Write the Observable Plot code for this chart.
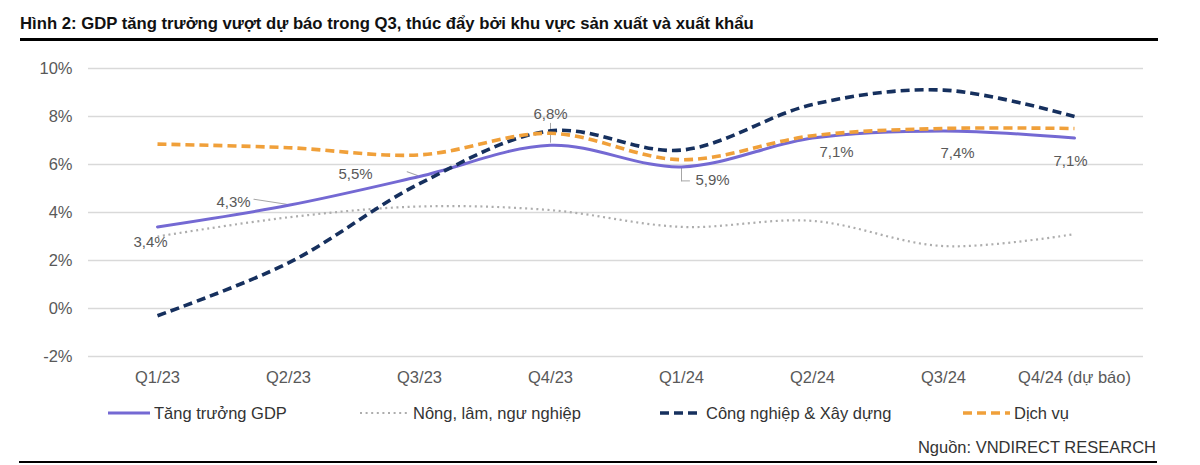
<!DOCTYPE html>
<html>
<head>
<meta charset="utf-8">
<script src="https://cdn.jsdelivr.net/npm/d3@7"></script>
<script src="https://cdn.jsdelivr.net/npm/@observablehq/plot@0.6"></script>
<style>
  html, body { margin: 0; padding: 0; background: #fff; }
  body { width: 1200px; height: 465px; position: relative; overflow: hidden;
         font-family: "Liberation Sans", Arial, sans-serif; }
  #title { position: absolute; left: 20px; top: 14px; font-weight: bold; font-size: 16.7px; color: #111; white-space: nowrap; }
  #topRule { position: absolute; left: 20px; top: 38px; width: 1138px; height: 2.5px; background: #000; }
  #chart { position: absolute; left: 0; top: 0; }
  #legend { position: absolute; left: 0; top: 400px; width: 1200px; height: 26px; }
  .item { position: absolute; top: 0; height: 26px; display: flex; align-items: center; font-size: 16.5px; color: #333; white-space: nowrap; }
  .item svg { margin-right: 4px; }
  #source { position: absolute; right: 44px; top: 438px; font-size: 16.5px; color: #333; white-space: nowrap; }
  #bottomRule { position: absolute; left: 19px; top: 461px; width: 1138px; height: 2px; background: #000; }
</style>
</head>
<body>
<div id="title">Hình 2: GDP tăng trưởng vượt dự báo trong Q3, thúc đẩy bởi khu vực sản xuất và xuất khẩu</div>
<div id="topRule"></div>
<div id="chart"></div>
<div id="legend"></div>
<div id="source">Nguồn: VNDIRECT RESEARCH</div>
<div id="bottomRule"></div>
<script>
// ---- data ----
const categories = ["Q1/23", "Q2/23", "Q3/23", "Q4/23", "Q1/24", "Q2/24", "Q3/24", "Q4/24 (dự báo)"];
const gdp        = [3.4, 4.3, 5.5, 6.8, 5.9, 7.1, 7.4, 7.1];
const agriculture = [3.0, 3.8, 4.25, 4.1, 3.4, 3.65, 2.6, 3.1];
const industry   = [-0.3, 1.9, 5.2, 7.4, 6.6, 8.5, 9.1, 8.0];
const services   = [6.85, 6.7, 6.4, 7.3, 6.2, 7.2, 7.5, 7.5];
const yTicks     = [-2, 0, 2, 4, 6, 8, 10];
const seriesNames = ["Tăng trưởng GDP", "Nông, lâm, ngư nghiệp", "Công nghiệp & Xây dựng", "Dịch vụ"];

const fmt = v => d3.format(".1f")(v).replace(".", ",") + "%";
const rows = (vals) => categories.map((c, i) => ({cat: c, value: vals[i], i}));
const gdpRows = rows(gdp);

const styles = [
  {name: seriesNames[0], vals: gdp,         stroke: "#7469d3", width: 3,   dash: null,    cap: "round"},
  {name: seriesNames[1], vals: agriculture, stroke: "#adadad", width: 2.2, dash: "2,3.6", cap: "butt"},
  {name: seriesNames[2], vals: industry,    stroke: "#16305e", width: 3.6, dash: "9,5",   cap: "butt"},
  {name: seriesNames[3], vals: services,    stroke: "#f0a03a", width: 3.6, dash: "9,5",   cap: "butt"}
];

const labelMark = (i, dx, dy) => Plot.text(gdpRows.filter(d => d.i === i), {
  x: "cat", y: "value", text: d => fmt(d.value), dx, dy,
  fill: "#595959", fontSize: 15
});

// thin leader lines from a GDP point toward its label
const leaderShape = {draw(context, l) { context.moveTo(0, 0); context.lineTo(0, -l); }};
const leader = (i, rotate, length, dx = 0, dy = 0) => Plot.vector(gdpRows.filter(d => d.i === i), {
  x: "cat", y: "value", rotate, length, anchor: "start", shape: leaderShape,
  stroke: "#a6a6a6", strokeWidth: 1, dx, dy
});

const chart = Plot.plot({
  width: 1200,
  height: 395,
  marginTop: 68,
  marginBottom: 39,
  marginLeft: 88,
  marginRight: 57,
  style: {fontFamily: "'Liberation Sans', Arial, sans-serif", background: "transparent"},
  x: {type: "point", domain: categories, padding: 0.5, label: null},
  y: {domain: [-2, 10], ticks: yTicks, label: null},
  length: {type: "identity"},
  marks: [
    Plot.gridY(yTicks, {stroke: "#d9d9d9", strokeOpacity: 1, strokeWidth: 1.3}),
    Plot.axisY(yTicks, {tickSize: 0, tickPadding: 16, fontSize: 16.5, fill: "#595959",
                        tickFormat: d => d + "%", label: null}),
    Plot.axisX({tickSize: 0, tickPadding: 15, fontSize: 16.5, fill: "#595959", label: null}),
    leader(1, -81, 33, -2, -1),
    leader(2, -70, 11, -2, -1),
    leader(3, 0, 19, 0, -3),
    leader(4, 180, 13, 0, 1),
    leader(4, 90, 8, 0, 14),
    ...styles.map(s => Plot.line(rows(s.vals), {
      x: "cat", y: "value", curve: "catmull-rom",
      stroke: s.stroke, strokeWidth: s.width,
      strokeDasharray: s.dash, strokeLinecap: s.cap
    })),
    labelMark(0, -7, 15),
    labelMark(1, -55, -3),
    labelMark(2, -64, -2),
    labelMark(3, 0, -31),
    labelMark(4, 31, 13),
    labelMark(5, 24, 14),
    labelMark(6, 14, 22),
    labelMark(7, -4, 23)
  ]
});
document.getElementById("chart").appendChild(chart);

// ---- legend ----
const legendLeft = [108, 360, 660, 963];
const swatchW = [42, 49, 42, 47];
const legend = document.getElementById("legend");
styles.forEach((s, k) => {
  const item = document.createElement("div");
  item.className = "item";
  item.style.left = legendLeft[k] + "px";
  const w = swatchW[k];
  item.innerHTML = `<svg width="${w}" height="10"><line x1="0" x2="${w}" y1="5" y2="5" stroke="${s.stroke}" stroke-width="${s.width}" ${s.dash ? `stroke-dasharray="${s.dash}"` : ""}/></svg><span>${s.name}</span>`;
  legend.appendChild(item);
});
</script>
</body>
</html>
